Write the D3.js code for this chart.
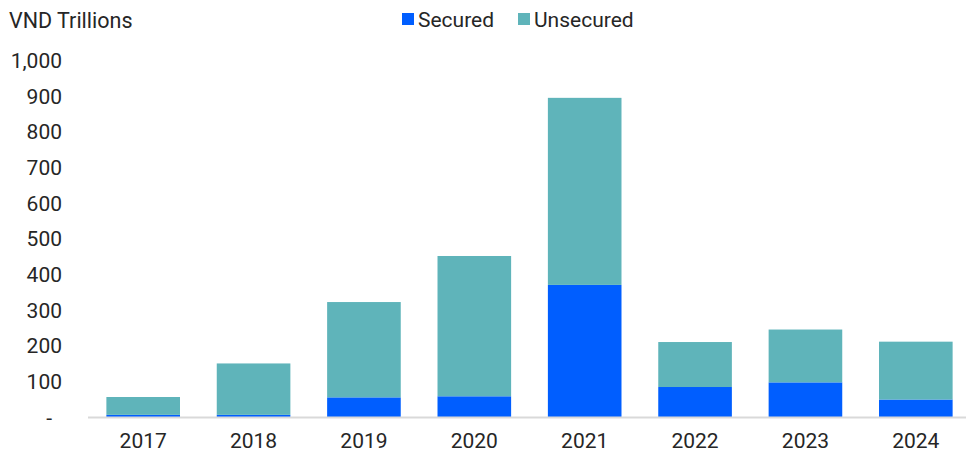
<!DOCTYPE html>
<html>
<head>
<meta charset="utf-8">
<script src="https://cdn.jsdelivr.net/npm/d3@7"></script>
<style>
  html, body { margin: 0; padding: 0; background: #fff; }
  svg { display: block; font-family: Roboto, "Noto Sans", sans-serif; }
</style>
</head>
<body>
<svg id="chart" width="966" height="453"></svg>
<script>
// Annual issuance by type, VND trillions
const years = ["2017", "2018", "2019", "2020", "2021", "2022", "2023", "2024"];
const secured = [6, 6, 55, 58, 370, 84, 97, 49];
const unsecured = [50, 144, 267, 393, 524, 126, 148, 162];
const yTicks = [0, 100, 200, 300, 400, 500, 600, 700, 800, 900, 1000];
const seriesNames = ["Secured", "Unsecured"];
const seriesColors = ["#005EFF", "#5FB4BA"];

const svg = d3.select("#chart");
const textColor = "#262626";
const fontSize = "21px";

const x = d3.scaleBand()
  .domain(years)
  .range([88, 971])
  .paddingInner(0.333)
  .paddingOuter(0.1665);

const y = d3.scaleLinear()
  .domain([0, 1000])
  .range([417, 60]);

const rows = years.map((yr, i) => ({ year: yr, Secured: secured[i], Unsecured: unsecured[i] }));
const stacked = d3.stack().keys(seriesNames)(rows);

// Stacked bars
svg.append("g")
  .selectAll("g")
  .data(stacked)
  .join("g")
  .attr("fill", (d, i) => seriesColors[i])
  .selectAll("rect")
  .data(d => d)
  .join("rect")
  .attr("x", d => x(d.data.year))
  .attr("width", x.bandwidth())
  .attr("y", d => y(d[1]))
  .attr("height", d => y(d[0]) - y(d[1]));

// Baseline
svg.append("line")
  .attr("x1", 88).attr("x2", 966)
  .attr("y1", y(0) + 0.5).attr("y2", y(0) + 0.5)
  .attr("stroke", "#d9d9d9")
  .attr("stroke-width", 2);

// Y axis labels
const yAxis = d3.axisLeft(y)
  .tickValues(yTicks)
  .tickSize(0)
  .tickPadding(0)
  .tickFormat(d => d === 0 ? "-" : d3.format(",")(d));

const yg = svg.append("g")
  .attr("transform", "translate(62,0)")
  .call(yAxis);
yg.select(".domain").remove();
yg.selectAll("text")
  .attr("fill", textColor)
  .attr("font-size", fontSize)
  .attr("font-family", "Roboto, sans-serif")
  .attr("dy", "0.35em")
  .filter(d => d === 0)
  .attr("x", -10);

// X axis labels
const xAxis = d3.axisBottom(x).tickSize(0).tickPadding(0);
const xg = svg.append("g")
  .attr("transform", `translate(0,${y(0)})`)
  .call(xAxis);
xg.select(".domain").remove();
xg.selectAll("text")
  .attr("fill", textColor)
  .attr("font-size", fontSize)
  .attr("font-family", "Roboto, sans-serif")
  .attr("dy", 0)
  .attr("y", 31);

// Unit title
svg.append("text")
  .attr("x", 9)
  .attr("y", 28)
  .attr("fill", textColor)
  .attr("font-size", "21.5px")
  .text("VND Trillions");

// Legend
const legendItems = [
  { name: seriesNames[0], color: seriesColors[0], x: 402 },
  { name: seriesNames[1], color: seriesColors[1], x: 518 }
];
const lg = svg.append("g").selectAll("g").data(legendItems).join("g")
  .attr("transform", d => `translate(${d.x},0)`);
lg.append("rect")
  .attr("x", 0).attr("y", 13)
  .attr("width", 12).attr("height", 12)
  .attr("fill", d => d.color);
lg.append("text")
  .attr("x", 16).attr("y", 26.5)
  .attr("fill", textColor)
  .attr("font-size", fontSize)
  .text(d => d.name);
</script>
</body>
</html>
